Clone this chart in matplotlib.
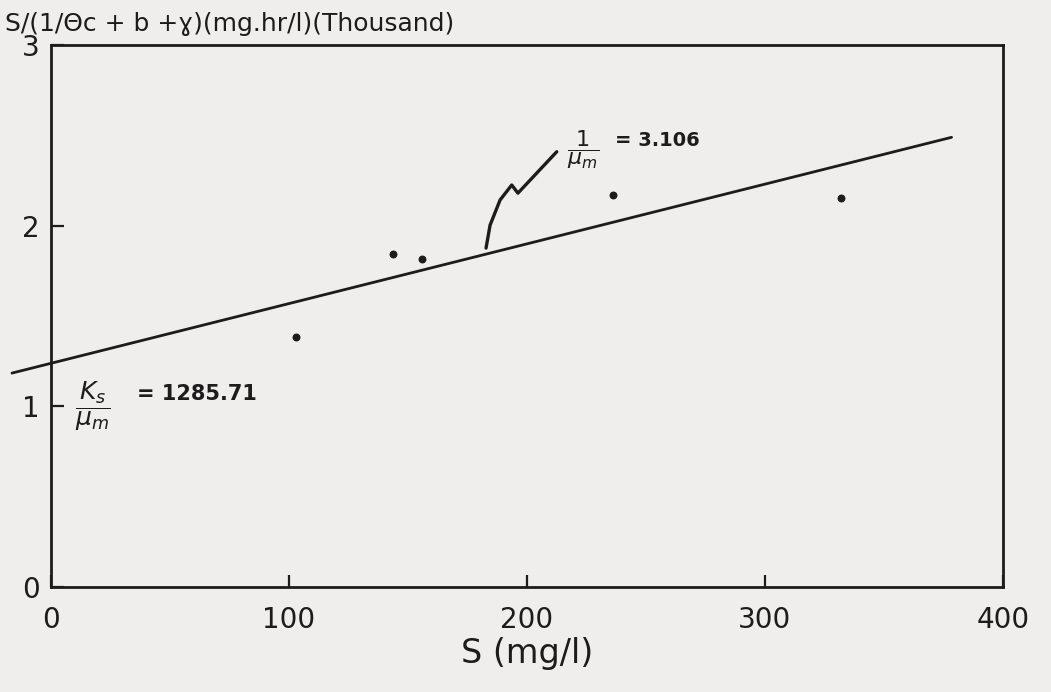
import matplotlib

matplotlib.use("Agg")
import matplotlib.pyplot as plt

# measured substrate vs. S/(1/theta_c + b + gamma), in thousands
s_conc = [102.8, 143.8, 156.0, 236.3, 331.8]
s_ratio = [1.382, 1.841, 1.815, 2.169, 2.151]

# fitted straight line (drawn end to end)
fit_x = [-16.4, 378.4]
fit_y = [1.184, 2.489]

x_ticks = [0, 100, 200, 300, 400]
y_ticks = [0, 1, 2, 3]

PAPER = "#efeeec"
INK = "#1c1c1c"

plt.rcParams["font.family"] = ["DejaVu Sans"]

fig = plt.figure(figsize=(10.51, 6.92), dpi=100, facecolor=PAPER)
ax = fig.add_axes([0.0485, 0.1517, 0.9058, 0.7833], facecolor=PAPER)

ax.plot(fit_x, fit_y, color=INK, lw=2.0, clip_on=False, solid_capstyle="round")
ax.scatter(s_conc, s_ratio, s=22, color=INK, zorder=3)

# hand-drawn pointer from the line up to the slope note
hook_x = [182.8, 184.5, 188.7, 193.6, 196.2, 212.5]
hook_y = [1.876, 2.003, 2.142, 2.225, 2.180, 2.409]
ax.plot(hook_x, hook_y, color=INK, lw=2.4, solid_capstyle="round", solid_joinstyle="round")

ax.text(217, 2.42, r"$\dfrac{1}{\mu_m}$", fontsize=16, color=INK, va="center")
ax.text(237, 2.47, "= 3.106", fontsize=14, color=INK, va="center", fontweight="bold")
ax.text(10, 1.0, r"$\dfrac{K_s}{\mu_m}$", fontsize=18, color=INK, va="center")
ax.text(36, 1.07, "= 1285.71", fontsize=15, color=INK, va="center", fontweight="bold")

ax.set_xlim(0, 400)
ax.set_ylim(0, 3)
ax.set_xticks(x_ticks)
ax.set_yticks(y_ticks)
ax.set_xticklabels([str(v) for v in x_ticks], fontsize=20, color=INK)
ax.set_yticklabels([str(v) for v in y_ticks], fontsize=20, color=INK)
ax.tick_params(direction="in", length=9, width=1.6, color=INK, pad=8)
ax.tick_params(axis="x", pad=14)
for sp in ax.spines.values():
    sp.set_linewidth(2.0)
    sp.set_color(INK)

ax.set_xlabel("S (mg/l)", fontsize=24, color=INK, labelpad=2)
fig.text(0.005, 0.966, "S/(1/\u0398c + b +\u0263)(mg.hr/l)(Thousand)", fontsize=18,
         color=INK, va="center")

fig.savefig("out.png", dpi=100, facecolor=PAPER)
